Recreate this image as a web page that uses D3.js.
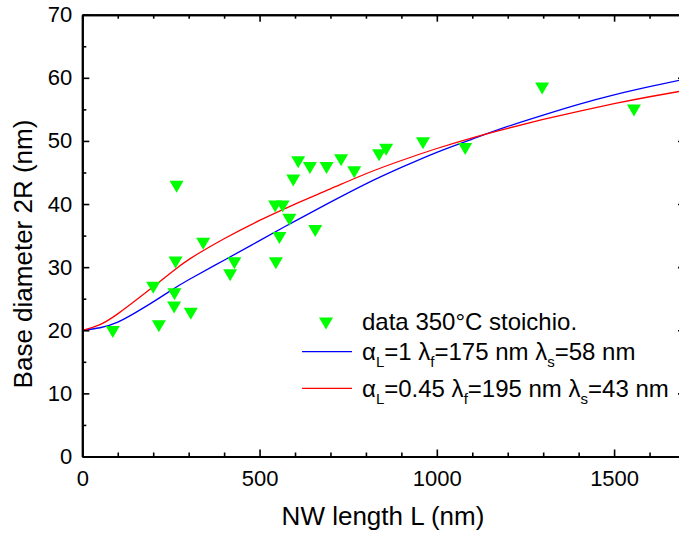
<!DOCTYPE html>
<html>
<head>
<meta charset="utf-8">
<script src="https://cdn.jsdelivr.net/npm/d3@7"></script>
<style>
  html, body { margin: 0; padding: 0; background: #fff; }
  svg { display: block; font-family: Arial, "Liberation Sans", sans-serif; }
</style>
</head>
<body>
<svg id="chart" width="679" height="534"></svg>
<script>
// ---- data ----
const lengthNm   = [86, 216, 200, 259, 260, 306, 263, 266, 341, 417, 429, 546, 556, 544, 565, 584, 657, 595, 609, 642, 689, 730, 767, 837, 857, 961, 1080, 1297, 1556];
const diameterNm = [19.8, 20.7, 26.8, 23.7, 25.8, 22.7, 30.8, 42.8, 33.8, 28.8, 30.7, 30.7, 34.7, 39.7, 39.7, 37.6, 35.8, 43.8, 46.7, 45.8, 45.8, 47.0, 45.1, 47.8, 48.7, 49.7, 48.8, 58.4, 54.9];

const fitL    = [0, 50, 100, 150, 200, 250, 300, 400, 500, 600, 700, 800, 900, 1000, 1100, 1200, 1300, 1400, 1500, 1600, 1700];
const fitBlue = [20.0, 20.4, 21.3, 22.8, 24.5, 26.3, 28.0, 31.1, 34.2, 37.3, 40.3, 43.2, 45.8, 48.2, 50.3, 52.3, 54.1, 55.8, 57.3, 58.6, 59.8];
const fitRed  = [20.0, 20.9, 22.6, 24.7, 26.9, 29.1, 31.2, 34.5, 37.4, 40.0, 42.4, 44.8, 46.9, 48.8, 50.5, 52.0, 53.4, 54.7, 55.9, 57.0, 58.0];

const xMajorTicks = [0, 500, 1000, 1500];
const xMinorTicks = [100, 200, 300, 400, 600, 700, 800, 900, 1100, 1200, 1300, 1400, 1600];
const yMajorTicks = [0, 10, 20, 30, 40, 50, 60, 70];
const yMinorTicks = [5, 15, 25, 35, 45, 55, 65];

const xTitle = "NW length L (nm)";
const yTitle = "Base diameter 2R (nm)";
const legendData = "data 350°C stoichio.";
const legendBlue = [["α", 0], ["L", 1], ["=1 λ", 0], ["f", 1], ["=175 nm λ", 0], ["s", 1], ["=58 nm", 0]];
const legendRed  = [["α", 0], ["L", 1], ["=0.45 λ", 0], ["f", 1], ["=195 nm λ", 0], ["s", 1], ["=43 nm", 0]];

// ---- layout ----
const L = 82.3, R = 685, T = 14.7, B = 456.5;
const svg = d3.select("#chart");

const x = d3.scaleLinear().domain([0, 1700]).range([L, R]);
const y = d3.scaleLinear().domain([0, 70]).range([B, T]);

svg.append("defs").append("clipPath").attr("id", "clip")
  .append("rect").attr("x", L).attr("y", T).attr("width", R - L).attr("height", B - T);

// fit curves
const lineGen = d3.line().x(d => x(d[0])).y(d => y(d[1])).curve(d3.curveNatural);
const plot = svg.append("g").attr("clip-path", "url(#clip)");
plot.append("path").datum(fitL.map((v, i) => [v, fitBlue[i]]))
  .attr("d", lineGen).attr("fill", "none").attr("stroke", "#0000ff").attr("stroke-width", 1.3);
plot.append("path").datum(fitL.map((v, i) => [v, fitRed[i]]))
  .attr("d", lineGen).attr("fill", "none").attr("stroke", "#ff0000").attr("stroke-width", 1.3);

// triangle markers
const tri = (cx, cy) => `M${cx - 7},${cy - 5.5}L${cx + 7},${cy - 5.5}L${cx},${cy + 6.5}Z`;
plot.selectAll("path.pt").data(lengthNm.map((v, i) => [v, diameterNm[i]]))
  .enter().append("path").attr("class", "pt")
  .attr("d", d => tri(x(d[0]), y(d[1])))
  .attr("fill", "#00ff00");

// axes
function styleAxis(g) {
  g.select(".domain").attr("stroke", "#000").attr("stroke-width", 2);
  g.selectAll(".tick line").attr("stroke", "#000").attr("stroke-width", 1.6);
  g.selectAll(".tick text").attr("fill", "#000").attr("font-size", 22);
}
function addAxis(axisFn, scale, pos, vals, size, labels, pad) {
  const a = axisFn(scale).tickValues(vals).tickSize(-size).tickSizeOuter(0);
  if (labels) a.tickFormat(d3.format("d")).tickPadding(pad); else a.tickFormat("");
  const g = svg.append("g").attr("transform", pos).call(a);
  styleAxis(g);
  return g;
}
addAxis(d3.axisBottom, x, `translate(0,${B})`, xMajorTicks, 7, true, 14);
addAxis(d3.axisBottom, x, `translate(0,${B})`, xMinorTicks, 4, false);
addAxis(d3.axisTop, x, `translate(0,${T})`, xMajorTicks, 7, false);
addAxis(d3.axisTop, x, `translate(0,${T})`, xMinorTicks, 4, false);
addAxis(d3.axisLeft, y, `translate(${L},0)`, yMajorTicks, 7, true, 10);
addAxis(d3.axisLeft, y, `translate(${L},0)`, yMinorTicks, 4, false);
addAxis(d3.axisRight, y, `translate(${R},0)`, yMajorTicks, 7, false);
addAxis(d3.axisRight, y, `translate(${R},0)`, yMinorTicks, 4, false);

// axis titles
svg.append("text").attr("x", 383).attr("y", 525)
  .attr("text-anchor", "middle").attr("font-size", 26).attr("fill", "#000").text(xTitle);
svg.append("text").attr("transform", "translate(32,254) rotate(-90)")
  .attr("text-anchor", "middle").attr("font-size", 26).attr("fill", "#000").text(yTitle);

// legend
const lg = svg.append("g");
lg.append("path").attr("d", tri(326, 323)).attr("fill", "#00ff00");
lg.append("text").attr("x", 362).attr("y", 330).attr("font-size", 24).attr("fill", "#000").text(legendData);

function richText(yBase, parts) {
  const t = lg.append("text").attr("x", 362).attr("y", yBase).attr("font-size", 24).attr("fill", "#000");
  let prevSub = false;
  parts.forEach(([s, sub]) => {
    const ts = t.append("tspan").text(s);
    if (sub) { ts.attr("font-size", 15).attr("dy", 7); }
    else if (prevSub) { ts.attr("dy", -7); }
    prevSub = !!sub;
  });
}
richText(360, legendBlue);
richText(396.7, legendRed);
lg.append("line").attr("x1", 302).attr("x2", 352).attr("y1", 351.7).attr("y2", 351.7).attr("stroke", "#0000ff").attr("stroke-width", 1.3);
lg.append("line").attr("x1", 302).attr("x2", 352).attr("y1", 388.3).attr("y2", 388.3).attr("stroke", "#ff0000").attr("stroke-width", 1.3);
</script>
</body>
</html>
